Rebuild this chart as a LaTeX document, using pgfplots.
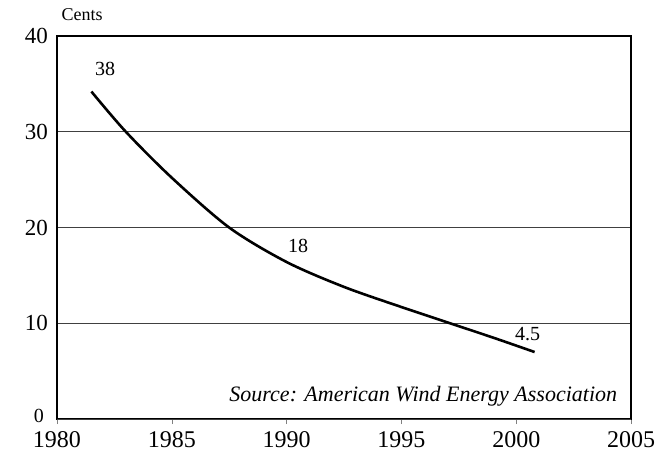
\documentclass[border=0pt]{standalone}
\usepackage{fontspec}
\setmainfont{Liberation Serif}
\usepackage{pgfplots}
\pgfplotsset{compat=1.18}
\begin{document}
\begin{tikzpicture}
\begin{axis}[
  scale only axis,
  width=287pt, height=191.5pt,
  xmin=1980, xmax=2005, ymin=0, ymax=40,
  xtick={1980,1985,...,2005},
  ytick={10,20,30,40},
  extra y ticks={0},
  extra y tick style={yticklabel style={font=\fontsize{10}{12}\selectfont, yshift=1.5pt, xshift=-2pt}},
  xticklabel style={/pgf/number format/1000 sep={}, font=\fontsize{12}{14}\selectfont},
  yticklabel style={font=\fontsize{11.5}{14}\selectfont, xshift=-1pt},
  /pgf/number format/assume math mode=true,
  xtick pos=bottom, ytick pos=left,
  xtick align=outside,
  major tick length=2.5pt,
  y tick style={draw=none},
  ymajorgrids,
  grid style={black!75, line width=0.5pt},
  axis line style={line width=0.6pt},
  clip=false,
]
\addplot[black, line width=1.3pt, smooth] coordinates {
 (1981.5,34.2) (1983,30) (1985,25.2) (1987.5,20) (1990,16.4) (1992.5,13.8) (1995,11.7) (1997,10.1) (1999,8.5) (2000.8,7)
};
\node[font=\fontsize{10}{12}\selectfont] at (axis cs:1982.1,36.6) {38};
\node[font=\fontsize{10}{12}\selectfont] at (axis cs:1990.5,18.1) {18};
\node[font=\fontsize{10}{12}\selectfont] at (axis cs:2000.5,8.9) {4.5};
\node[font=\fontsize{11}{13}\itshape\selectfont, anchor=base east] at (axis cs:2004.7,1.8) {Source: American Wind Energy Association};
\node[font=\fontsize{9}{11}\selectfont] at (axis cs:1981.1,42.2) {Cents};
\path (axis cs:1977.52,-3.34) rectangle (axis cs:2006.39,43.76);
\end{axis}
\end{tikzpicture}
\end{document}
